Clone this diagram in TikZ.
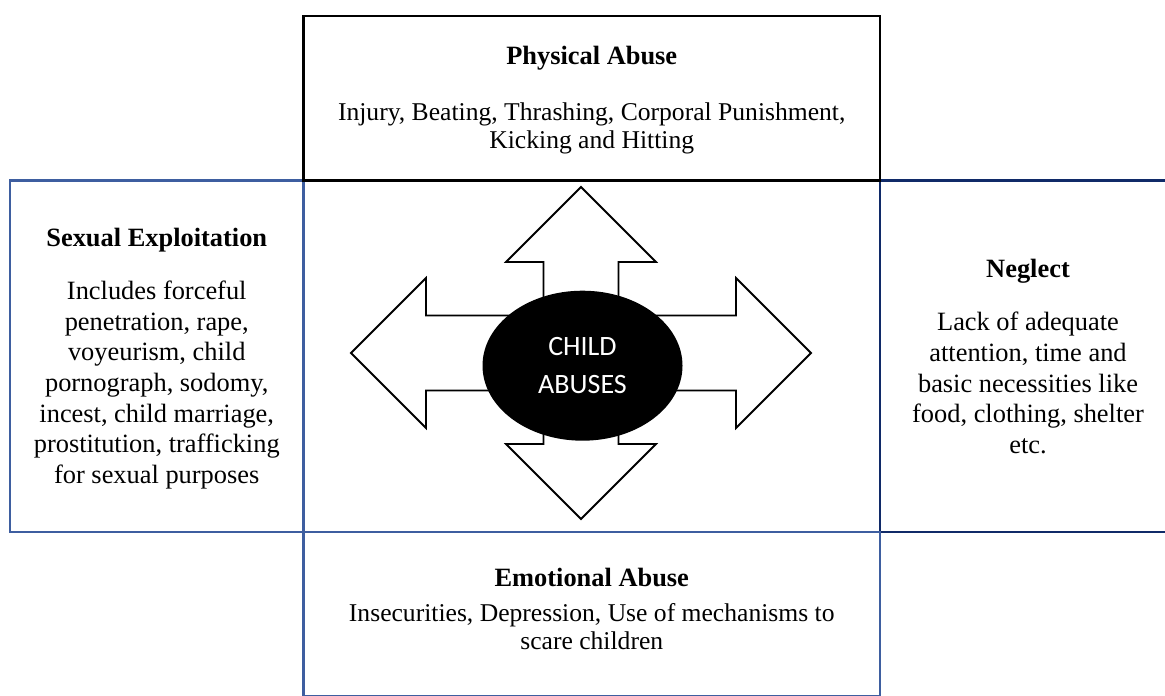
\documentclass[tikz,border=0pt]{standalone}
\usepackage{fontspec}
\setmainfont{Liberation Serif}
\newfontfamily\calibri{Carlito}
\usetikzlibrary{positioning}
\usetikzlibrary{shapes.geometric}

\definecolor{boxblue}{RGB}{62,94,160}
\definecolor{boxnavy}{RGB}{16,42,104}

\begin{document}
\begin{tikzpicture}[x=0.5pt,y=-0.5pt,
            panel/.style={rectangle, draw=black, line width=1.1pt, minimum width=288.25pt, minimum height=82.25pt, inner sep=0pt, outer sep=0pt},
            sidepanel/.style={panel, draw=boxblue, minimum width=146.75pt, minimum height=175.75pt},
            heading/.style={font=\fontsize{13.2}{15}\selectfont\bfseries, anchor=base, inner sep=0pt},
            body/.style={font=\fontsize{12.8}{14}\selectfont, align=center, anchor=north, inner sep=0pt},
            sidebody/.style={body, font=\fontsize{13.2}{15.3}\selectfont},
            hub/.style={ellipse, fill=black, text=white, minimum width=100pt, minimum height=75pt, inner sep=0pt, align=center, font=\calibri\fontsize{14}{19}\selectfont},
        ]
            \useasboundingbox (0,0) rectangle (1165,695);
            \clip (0,0) rectangle (1165,695);

            % Boxes
            \node[sidepanel] (sexual) at (156.75,356.25) {};
            \node[sidepanel, draw=boxnavy, minimum width=148pt] (neglect) at (1028,356.25) {};
            \node[panel, draw=boxblue] (emotional) at (591.75,614.25) {};
            \node[panel] (physical) at (591.75,98.25) {};

            % Four-way arrow
            \draw[line width=0.9pt, fill=white]
                (581,187) -- (656,262) -- (618.5,262) -- (618.5,315.5) -- (736,315.5) -- (736,278)
                -- (811,353) -- (736,428) -- (736,390.5) -- (618.5,390.5) -- (618.5,444) -- (656,444)
                -- (581,519) -- (506,444) -- (543.5,444) -- (543.5,390.5) -- (426,390.5) -- (426,428)
                -- (351,353) -- (426,278) -- (426,315.5) -- (543.5,315.5) -- (543.5,262) -- (506,262) -- cycle;
            \node[hub] (child) at (582.5,365.7) {CHILD\\ABUSES};

            % Texts
            \node[heading] (physhead) at (591.75,65) {Physical Abuse};
            \node[body] (physbody) at (591.75,102) {Injury, Beating, Thrashing, Corporal Punishment,\\Kicking and Hitting};

            \node[heading] (sexhead) at (156.75,246.7) {Sexual Exploitation};
            \node[sidebody] (sexbody) at (156.75,280.7) {Includes forceful\\penetration, rape,\\voyeurism, child\\pornograph, sodomy,\\incest, child marriage,\\prostitution, trafficking\\for sexual purposes};

            \node[heading] (neghead) at (1028,277) {Neglect};
            \node[sidebody] (negbody) at (1028,312) {Lack of adequate\\attention, time and\\basic necessities like\\food, clothing, shelter\\etc.};

            \node[heading] (emohead) at (591.75,586) {Emotional Abuse};
            \node[body] (emobody) at (591.75,603) {Insecurities, Depression, Use of mechanisms to\\scare children};
        \end{tikzpicture}
\end{document}
